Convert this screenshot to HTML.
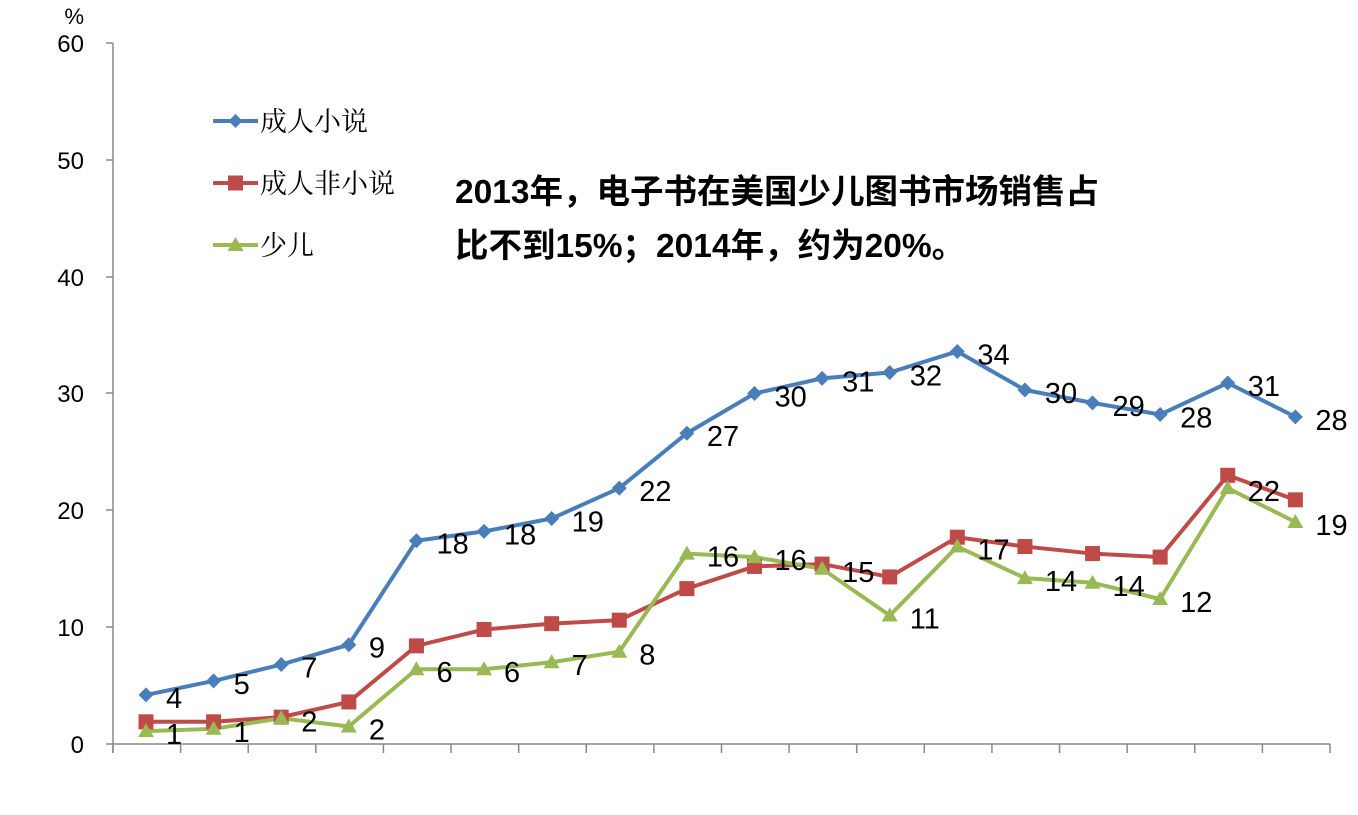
<!DOCTYPE html>
<html><head><meta charset="utf-8"><style>
body{margin:0;background:#fff}
svg{display:block}
text{font-family:"Liberation Sans","Noto Sans CJK SC",sans-serif}
</style></head><body>
<svg width="1358" height="815" viewBox="0 0 1358 815" xmlns="http://www.w3.org/2000/svg">
<g stroke="#888" stroke-width="1.5" fill="none">
<line x1="113" y1="43" x2="113" y2="753"/>
<line x1="106" y1="744" x2="1330" y2="744"/>
<line x1="106" y1="43" x2="113" y2="43"/>
<line x1="106" y1="160" x2="113" y2="160"/>
<line x1="106" y1="277" x2="113" y2="277"/>
<line x1="106" y1="393" x2="113" y2="393"/>
<line x1="106" y1="510" x2="113" y2="510"/>
<line x1="106" y1="627" x2="113" y2="627"/>
</g>
<g id="ticks" stroke="#888" stroke-width="1.5"></g>
<g font-size="24" fill="#000" text-anchor="end">
<text x="84" y="52">60</text><text x="84" y="169">50</text><text x="84" y="286">40</text>
<text x="84" y="402">30</text><text x="84" y="519">20</text><text x="84" y="636">10</text><text x="84" y="753">0</text>
<text x="84" y="24" font-size="22">%</text>
</g>
<g id="series"></g>
<g font-size="27" fill="#000">
<line x1="213" y1="121" x2="258" y2="121" stroke="#4a7ebb" stroke-width="4"/>
<path d="M235.5 114 L242.5 121 L235.5 128 L228.5 121Z" fill="#4a7ebb"/>
<text x="260" y="131" style="font-family:'Noto Serif CJK SC',serif">成人小说</text>
<line x1="213" y1="183" x2="258" y2="183" stroke="#be4b48" stroke-width="4"/>
<rect x="228" y="175.5" width="15" height="15" fill="#be4b48"/>
<text x="260" y="193" style="font-family:'Noto Serif CJK SC',serif">成人非小说</text>
<line x1="213" y1="245" x2="258" y2="245" stroke="#98b954" stroke-width="4"/>
<path d="M235.5 237 L243.5 251 L227.5 251Z" fill="#98b954"/>
<text x="260" y="255" style="font-family:'Noto Serif CJK SC',serif">少儿</text>
</g>
<g font-size="33.5" font-weight="bold" fill="#000">
<text x="455" y="203">2013年，电子书在美国少儿图书市场销售占</text>
<text x="455" y="257">比不到15%；2014年，约为20%。</text>
</g>
<script>
(function(){
var ns="http://www.w3.org/2000/svg";
var tk=document.getElementById("ticks");
for(var i=0;i<=18;i++){var x=113+i*67.61;var l=document.createElementNS(ns,"line");
l.setAttribute("x1",x);l.setAttribute("x2",x);l.setAttribute("y1",744);l.setAttribute("y2",753);tk.appendChild(l);}
function X(i){return 146+i*67.61}
function Y(v){return 744-v*11.683}
var blue=[4.2,5.4,6.8,8.5,17.4,18.2,19.3,21.9,26.6,30,31.3,31.8,33.6,30.3,29.2,28.2,30.9,28];
var bl=[4,5,7,9,18,18,19,22,27,30,31,32,34,30,29,28,31,28];
var red=[1.9,1.9,2.3,3.6,8.4,9.8,10.3,10.6,13.3,15.2,15.4,14.3,17.7,16.9,16.3,16,23,20.9];
var green=[1.1,1.3,2.2,1.5,6.4,6.4,7,7.9,16.3,16,15,11,16.9,14.2,13.8,12.4,21.9,19];
var gl=[1,1,2,2,6,6,7,8,16,16,15,11,17,14,14,12,22,19];
var g=document.getElementById("series");
function line(d,c){var p=document.createElementNS(ns,"polyline");
p.setAttribute("points",d.map(function(v,i){return X(i)+","+Y(v)}).join(" "));
p.setAttribute("fill","none");p.setAttribute("stroke",c);p.setAttribute("stroke-width","4");p.setAttribute("stroke-linejoin","round");g.appendChild(p);}
function mk(tag,attrs){var e=document.createElementNS(ns,tag);for(var k in attrs)e.setAttribute(k,attrs[k]);g.appendChild(e);return e;}
line(blue,"#4a7ebb");line(red,"#be4b48");line(green,"#98b954");
blue.forEach(function(v,i){var x=X(i),y=Y(v);mk("path",{d:"M"+x+" "+(y-7.5)+" L"+(x+7.5)+" "+y+" L"+x+" "+(y+7.5)+" L"+(x-7.5)+" "+y+"Z",fill:"#4a7ebb"});});
red.forEach(function(v,i){var x=X(i),y=Y(v);mk("rect",{x:x-7.5,y:y-7.5,width:15,height:15,fill:"#be4b48"});});
green.forEach(function(v,i){var x=X(i),y=Y(v);mk("path",{d:"M"+x+" "+(y-8)+" L"+(x+8)+" "+(y+6)+" L"+(x-8)+" "+(y+6)+"Z",fill:"#98b954"});});
blue.forEach(function(v,i){var t=mk("text",{x:X(i)+20,y:Y(v)+13,"font-size":"29",fill:"#000"});t.textContent=bl[i];});
green.forEach(function(v,i){var t=mk("text",{x:X(i)+20,y:Y(v)+13,"font-size":"29",fill:"#000"});t.textContent=gl[i];});
})();
</script>
</svg>
</body></html>
